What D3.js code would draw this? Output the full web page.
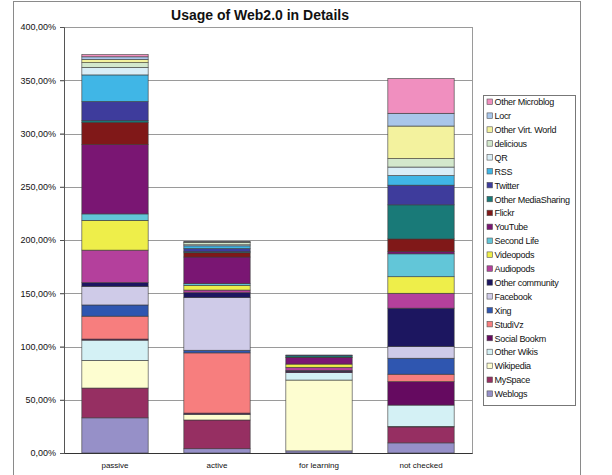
<!DOCTYPE html>
<meta charset="utf-8">
<script src="https://d3js.org/d3.v7.min.js"></script>
<style>
body { margin: 0; background: #fff; }
text { font-family: "Liberation Sans", Arial, sans-serif; fill: #111; }
.grid line { stroke: #9a9a9a; stroke-width: 1; }
.seg { stroke: #3a3a3a; stroke-width: 0.6; }
</style>
<body>
<script>

const categories = ["passive", "active", "for learning", "not checked"];

// stacking order, bottom to top
const seriesNames = ["Weblogs", "MySpace", "Wikipedia", "Other Wikis", "Social Bookm", "StudiVz",
  "Xing", "Facebook", "Other community", "Audiopods", "Videopods", "Second Life", "YouTube",
  "Flickr", "Other MediaSharing", "Twitter", "RSS", "QR", "delicious", "Other Virt. World",
  "Locr", "Other Microblog"];

const seriesColors = ["#9690c8", "#962f62", "#fdfdd0", "#d4f1f5", "#650a60", "#f77e7e",
  "#2f56b0", "#cfcbe8", "#1c1660", "#b4409c", "#eeee4a", "#62c6d8", "#7a1673",
  "#801818", "#197a78", "#3e3c9c", "#40b6e6", "#d9eef7", "#d3e8cc", "#f3f29e",
  "#a9c6ea", "#f08fbf"];

// values in percent, one array per category, same order as seriesNames
const passive    = [33, 28, 26, 19, 1, 21.5, 10.5, 17.5, 3.5, 30.5, 28, 6, 65, 21, 1.5, 18, 25, 7, 4.5, 3, 2.5, 2];
const active     = [4, 27, 5, 0.5, 1, 56.5, 2.5, 49.5, 4.5, 2.5, 4.5, 1.5, 25, 4, 1, 3, 2.5, 1, 2, 0.5, 0.5, 0];
const forLearning = [2, 0, 66.5, 7, 1, 0, 0, 0, 1, 3, 3, 0, 6, 0.5, 1.5, 0.5, 0, 0, 0, 0, 0, 0];
const notChecked = [9.5, 15, 0.5, 20, 22, 7, 15, 11, 36, 14, 15.5, 21.5, 2, 12, 32, 18.5, 9, 8, 8, 30.5, 12, 32.5];

const yTicks = [0, 50, 100, 150, 200, 250, 300, 350, 400];

const width = 612, height = 475;
const plot = {left: 64, right: 472, top: 27, bottom: 453};

const svg = d3.select("body").append("svg")
    .attr("width", width)
    .attr("height", height);

// outer chart frame
svg.append("rect")
    .attr("x", 13.5).attr("y", 1.5)
    .attr("width", 567).attr("height", 480)
    .attr("fill", "none")
    .attr("stroke", "#8a8a8a");

svg.append("text")
    .attr("x", 260).attr("y", 20)
    .attr("text-anchor", "middle")
    .style("font-size", "14px")
    .style("font-weight", "bold")
    .text("Usage of Web2.0 in Details");

let table = categories.map((c, i) => {
  let row = {category: c};
  let vals = [passive, active, forLearning, notChecked][i];
  seriesNames.forEach((s, j) => row[s] = vals[j]);
  return row;
});

let x = d3.scaleBand()
    .domain(categories)
    .range([plot.left, plot.right])
    .paddingInner(0.35)
    .paddingOuter(0.175);

let y = d3.scaleLinear()
    .domain([0, 400])
    .range([plot.bottom, plot.top]);

let color = d3.scaleOrdinal().domain(seriesNames).range(seriesColors);

// gridlines
svg.append("g")
    .attr("class", "grid")
    .selectAll("line")
    .data(yTicks.slice(1))
    .enter().append("line")
    .attr("x1", plot.left - 4).attr("x2", plot.right)
    .attr("y1", d => Math.round(y(d)) + 0.5)
    .attr("y2", d => Math.round(y(d)) + 0.5);

// plot area border
svg.append("rect")
    .attr("x", plot.left + 0.5).attr("y", Math.round(y(400)) + 0.5)
    .attr("width", plot.right - plot.left)
    .attr("height", Math.round(y(0)) - Math.round(y(400)))
    .attr("fill", "none")
    .attr("stroke", "#9a9a9a");

let stack = d3.stack().keys(seriesNames)(table);

svg.append("g")
  .selectAll("g")
  .data(stack)
  .enter().append("g")
    .attr("fill", d => color(d.key))
  .selectAll("rect")
  .data(d => d.filter(p => p[1] > p[0]))
  .enter().append("rect")
    .attr("class", "seg")
    .attr("x", d => x(d.data.category))
    .attr("width", x.bandwidth())
    .attr("y", d => y(d[1]))
    .attr("height", d => y(d[0]) - y(d[1]));

// axes
let yAxis = svg.append("g")
    .attr("transform", `translate(${plot.left},0)`)
    .call(d3.axisLeft(y).tickValues(yTicks).tickSize(4)
      .tickFormat(d => d3.format(".2f")(d).replace(".", ",") + "%"));
yAxis.select(".domain").attr("stroke", "#555");
yAxis.selectAll(".tick line").attr("stroke", "#555");
yAxis.selectAll("text").style("font-size", "9px").attr("x", -8);

let xAxis = svg.append("g")
    .attr("transform", `translate(0,${plot.bottom})`)
    .call(d3.axisBottom(x).tickSize(0));
xAxis.select(".domain").attr("stroke", "#333");
xAxis.selectAll("text").style("font-size", "8px").attr("dy", "1.5em");

// legend
let legend = svg.append("g").attr("transform", "translate(483,95)");
legend.append("rect")
    .attr("x", 0.5).attr("y", 0.5)
    .attr("width", 92).attr("height", 310)
    .attr("fill", "#fff")
    .attr("stroke", "#777");

let items = legend.selectAll(".item")
    .data(seriesNames.slice().reverse())
    .enter().append("g")
    .attr("class", "item")
    .attr("transform", (d, i) => `translate(4,${7 + i * 13.9})`);

items.append("rect")
    .attr("x", 0).attr("y", -3)
    .attr("width", 5.5).attr("height", 5.5)
    .attr("fill", d => color(d))
    .attr("stroke", "#555")
    .attr("stroke-width", 0.6);

items.append("text")
    .attr("x", 7.5).attr("y", 3.2)
    .style("font-size", "9px")
    .style("letter-spacing", "-0.3px")
    .text(d => d);

</script>
